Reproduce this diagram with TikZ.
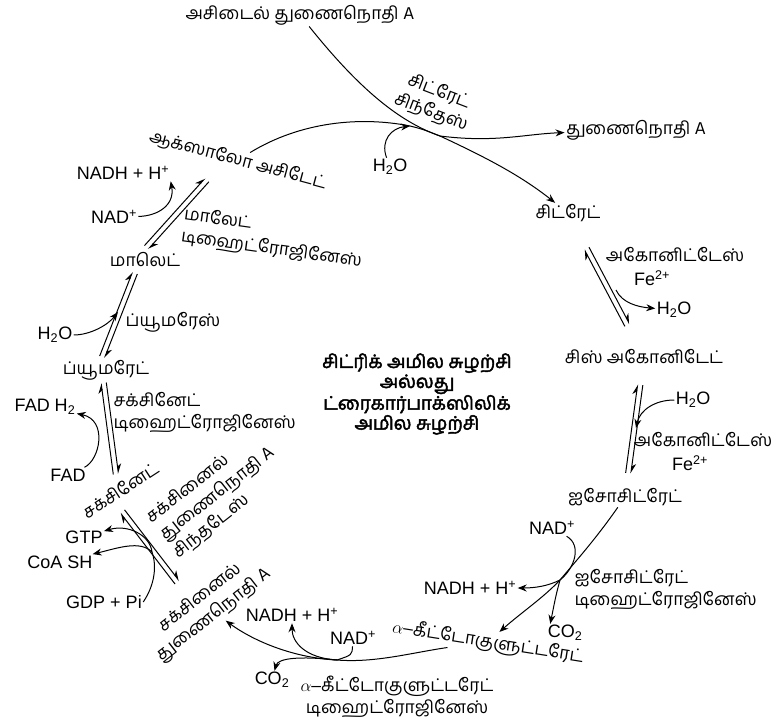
\documentclass[tikz,border=0pt]{standalone}
\usepackage{fontspec}
\setmainfont{Liberation Sans}
\newfontfamily\tamil[Script=Tamil]{Hind Madurai}
\newfontfamily\tamilbold[Script=Tamil, FakeBold=2.5]{Hind Madurai}
\usetikzlibrary{arrows.meta}
\usetikzlibrary{calc}

\newcommand{\eqarr}[4]{%
	\draw[harp, shorten <=#3, shorten >=#4] ($(#1)!2.6pt!90:(#2)$) -- ($(#2)!2.6pt!-90:(#1)$);
	\draw[harp, shorten <=#4, shorten >=#3] ($(#2)!2.6pt!90:(#1)$) -- ($(#1)!2.6pt!-90:(#2)$);}

\begin{document}
\begin{tikzpicture}
	[x=1pt, y=-1pt, line width=1pt,
	lat/.style = {inner sep=1pt, font=\fontsize{18}{20}\selectfont},
	tam/.style = {inner sep=1pt, align=center, font=\tamil\fontsize{17.5}{22}\selectfont},
	head/.style = {inner sep=1pt, align=center, font=\tamilbold\fontsize{18.5}{20}\selectfont},
	arr/.style = {-{Stealth[length=9pt, width=7pt]}},
	harp/.style = {-{Stealth[harpoon, length=9pt, width=8pt]}}]
	\useasboundingbox (0,0) rectangle (773,725);
	\node[tam] (acetyl) at (300,15) {அசிடைல் துணைநொதி A};
	\node[tam, rotate=-21] (cs) at (435,102) {சிட்ரேட்\\சிந்தேஸ்};
	\node[tam] (coa) at (636,130) {துணைநொதி A};
	\node[lat] (w1) at (390,167) {H\textsubscript{2}O};
	\node[tam, rotate=-15] (oxalo) at (238,160) {ஆக்ஸாலோ அசிடேட்};
	\node[tam] (citrate) at (568,213) {சிட்ரேட்};
	\node[tam] (aco1) at (675,255) {அகோனிட்டேஸ்};
	\node[lat] (fe1) at (652,278) {Fe\textsuperscript{2+}};
	\node[lat] (w2) at (674,310) {H\textsubscript{2}O};
	\node[tam] (cisaco) at (644,357) {சிஸ் அகோனிடேட்};
	\node[lat] (w3) at (693,400) {H\textsubscript{2}O};
	\node[tam] (aco2) at (703,440) {அகோனிட்டேஸ்};
	\node[lat] (fe2) at (690,463) {Fe\textsuperscript{2+}};
	\node[tam] (isocit) at (625,497) {ஐசோசிட்ரேட்};
	\node[lat] (nad1) at (552,528) {NAD\textsuperscript{+}};
	\node[tam, anchor=west, align=left] (icd) at (573,589) {ஐசோசிட்ரேட்\\டிஹைட்ரோஜினேஸ்};
	\node[lat] (nadh1) at (470,588) {NADH + H\textsuperscript{+}};
	\node[lat] (co1) at (565,633) {CO\textsubscript{2}};
	\node[tam, rotate=-9] (akg) at (488,642) {{\rmfamily$\alpha$–}கீட்டோகுளுட்டரேட்};
	\node[lat] (nad2) at (353,638) {NAD\textsuperscript{+}};
	\node[lat] (nadh2) at (292,615) {NADH + H\textsuperscript{+}};
	\node[lat] (co2) at (272,680) {CO\textsubscript{2}};
	\node[tam] (akgd) at (397,697) {{\rmfamily$\alpha$–}கீட்டோகுளுட்டரேட்\\டிஹைட்ரோஜினேஸ்};
	\node[tam, rotate=38] (succoa) at (207,607) {சக்சினைல்\\துணைநொதி A};
	\node[tam, rotate=38, align=left] (scs) at (217,494) {சக்சினைல்\\துணைநொதி A\\சிந்தடேஸ்};
	\node[lat] (gtp) at (84,537) {GTP};
	\node[lat] (coash) at (60,562) {CoA SH};
	\node[lat] (gdp) at (104,602) {GDP + Pi};
	\node[tam, rotate=33] (succ) at (120,490) {சக்சினேட்};
	\node[lat] (fad) at (68,475) {FAD};
	\node[lat] (fadh) at (45,407) {FAD H\textsubscript{2}};
	\node[tam, anchor=west, align=left] (sdh) at (112,412) {சக்சினேட்\\டிஹைட்ரோஜினேஸ்};
	\node[tam] (fum) at (106,370) {ப்யூமரேட்};
	\node[lat] (w4) at (55,335) {H\textsubscript{2}O};
	\node[tam] (fumase) at (173,322) {ப்யூமரேஸ்};
	\node[tam] (malate) at (145,260) {மாலெட்};
	\node[lat] (nad3) at (114,217) {NAD\textsuperscript{+}};
	\node[lat] (nadh3) at (123,173) {NADH + H\textsuperscript{+}};
	\node[tam, rotate=-8, align=left] (mdh) at (273,238) {மாலேட்\\டிஹைட்ரோஜினேஸ்};
	\node[head] (title) at (417,394) {சிட்ரிக் அமில சுழற்சி\\அல்லது\\ட்ரைகார்பாக்ஸிலிக்\\அமில சுழற்சி};
	\coordinate (j1) at (440,136);
	\coordinate (j2) at (410,126);
	\draw[arr] (acetyl) .. controls (360,90) and (400,122) .. (j1) .. controls (485,157) and (520,175) .. (citrate);
	\draw (oxalo) .. controls (300,122) and (360,116) .. (j2) .. controls (422,129) .. (j1);
	\draw[arr] (w1) .. controls (380,140) and (392,128) .. (j2);
	\draw[arr] (j1) .. controls (495,143) and (525,134) .. (coa);
	\eqarr{citrate}{cisaco}{40pt}{36pt}
	\coordinate (j3) at (616,290);
	\draw[arr] (j3) .. controls (622,303) and (638,307) .. (w2);
	\eqarr{cisaco}{isocit}{28pt}{24pt}
	\coordinate (j4) at (636,428);
	\draw[arr] (w3) .. controls (655,400) and (640,410) .. (j4);
	\coordinate (j5) at (560,580);
	\draw[arr] (isocit) .. controls (595,540) and (575,562) .. (j5) .. controls (543,598) and (522,612) .. (akg);
	\draw (nad1) .. controls (582,545) and (575,568) .. (j5);
	\draw[arr] (j5) .. controls (548,586) and (535,588) .. (nadh1);
	\draw[arr] (j5) .. controls (556,595) .. ([xshift=4pt]co1.north west);
	\coordinate (j6) at (337,660);
	\draw[arr] ($(akg.south west)!0.3!(akg.south east)$) .. controls (410,653) and (375,663) .. (j6) .. controls (295,658) and (255,642) .. (succoa);
	\draw (nad2) .. controls (352,655) .. (j6);
	\draw[arr] (j6) .. controls (305,658) and (292,642) .. (nadh2);
	\draw[arr] (j6) .. controls (300,656) and (278,658) .. (co2);
	\eqarr{[xshift=-11pt]succoa}{[xshift=-14pt]succ}{31pt}{27pt}
	\coordinate (j7) at (152,552);
	\draw (gdp.east) .. controls (158,580) and (155,560) .. (j7);
	\draw[arr] (j7) .. controls (140,540) and (118,548) .. (coash);
	\draw[arr] (j7) .. controls (150,535) and (128,524) .. (gtp);
	\draw[arr] (fad) .. controls (100,460) and (108,420) .. (fadh);
	\eqarr{[xshift=-2pt]succ}{[xshift=-4pt]fum}{16pt}{13pt}
	\eqarr{[xshift=-9pt]fum}{[xshift=-5pt]malate}{14pt}{14pt}
	\coordinate (j8) at (118,312);
	\draw[arr] (w4) .. controls (90,335) and (108,325) .. (j8);
	\eqarr{[xshift=-10pt]malate}{[xshift=-13pt]oxalo}{17pt}{27pt}
	\draw[arr] (nad3) .. controls (158,216) and (175,205) .. (nadh3.south east);
\end{tikzpicture}
\end{document}
